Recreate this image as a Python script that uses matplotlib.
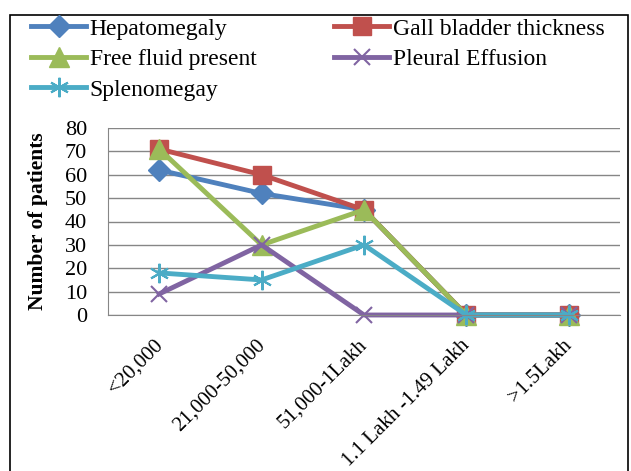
import matplotlib
matplotlib.use("Agg")
import matplotlib.pyplot as plt
from matplotlib.patches import Rectangle
from matplotlib.transforms import ScaledTranslation

categories = ["<20,000", "21,000-50,000", "51,000-1Lakh", "1.1 Lakh -1.49 Lakh", ">1.5Lakh"]
hepatomegaly = [62, 52, 45, 0, 0]
gall_bladder = [71, 60, 45, 0, 0]
free_fluid = [71, 30, 45, 0, 0]
pleural = [9, 30, 0, 0, 0]
splenomegay = [18, 15, 30, 0, 0]

plt.rcParams['font.family'] = ['Liberation Serif', 'DejaVu Serif']

fig = plt.figure(figsize=(6.31, 4.71), dpi=100)
ax = fig.add_axes([108/631, 1-315/471, 512/631, 187/471])

x = list(range(len(categories)))
lw = 3.5
h1, = ax.plot(x, hepatomegaly, color='#4F81BD', lw=lw, marker='D', ms=11, label='Hepatomegaly', clip_on=False)
h2, = ax.plot(x, gall_bladder, color='#C0504D', lw=lw, marker='s', ms=13, label='Gall bladder thickness', clip_on=False)
h3, = ax.plot(x, free_fluid, color='#9BBB59', lw=lw, marker='^', ms=14, label='Free fluid present', clip_on=False)
h4, = ax.plot(x, pleural, color='#8064A2', lw=lw, marker='x', ms=11, mew=1.5, label='Pleural Effusion', clip_on=False)
h5, = ax.plot(x, splenomegay, color='#4BACC6', lw=lw, marker=(6, 2, 0), ms=14, mew=1.5, label='Splenomegay', clip_on=False)

ax.set_xlim(-0.5, len(categories) - 0.5)
ax.set_ylim(0, 80)
ax.set_yticks(range(0, 81, 10))
ax.yaxis.grid(True, color='#868686', lw=1)
ax.set_axisbelow(True)
for s in ['top', 'right']:
    ax.spines[s].set_visible(False)
for s in ['left', 'bottom']:
    ax.spines[s].set_color('#868686')
ax.tick_params(axis='both', length=0, colors='black')
ax.tick_params(axis='y', pad=15, labelsize=16)
ax.set_xticks(x)
ax.set_xticklabels(categories, rotation=45, ha='right', rotation_mode='anchor', fontsize=15)
ax.tick_params(axis='x', pad=15)
off = ScaledTranslation(-6/100, 0, fig.dpi_scale_trans)
for lbl in ax.get_xticklabels():
    lbl.set_transform(lbl.get_transform() + off)
ax.set_ylabel('Number of patients', fontsize=15.5, fontweight='bold', labelpad=12)

handles = [h1, h3, h5, h2, h4]
fig.legend(handles=handles, labels=[h.get_label() for h in handles], ncol=2,
           loc='upper left', bbox_to_anchor=(31/631, 1-18/471), frameon=False,
           fontsize=17, handlelength=2.33, handletextpad=0.15, columnspacing=3.3,
           labelspacing=0.38, borderaxespad=0, borderpad=0)

fig.add_artist(Rectangle((10/631, -0.05), 618/631, 1.05 - 15/471, transform=fig.transFigure,
                         fill=False, edgecolor='black', lw=1.2, clip_on=False))

fig.savefig('out.png', dpi=100)
